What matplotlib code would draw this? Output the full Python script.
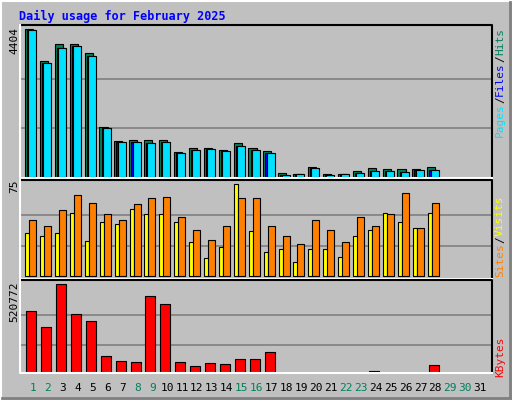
import matplotlib
matplotlib.use("Agg")
import matplotlib.pyplot as plt
from matplotlib.lines import Line2D

days = list(range(1, 32))
hits = [4404, 3450, 3957, 3957, 3688, 1482, 1064, 1094, 1094, 1094, 736, 856, 856, 796, 1005, 856, 775,
        130, 100, 290, 100, 100, 170, 260, 230, 230, 230, 290]
files = [4374, 3390, 3837, 3897, 3599, 1452, 1034, 1034, 1005, 1034, 707, 796, 826, 766, 915, 805, 705,
         70, 80, 260, 70, 80, 130, 170, 170, 140, 200, 200]
pages = [4374, 3390, 3837, 3897, 3599, 1452, 1034, 1034, 1005, 1034, 707, 796, 826, 766, 915, 805, 705,
         70, 80, 260, 70, 80, 130, 170, 170, 140, 200, 200]
visits = [35, 33, 35, 52, 29, 44, 43, 55, 51, 51, 44, 28, 15, 24, 75, 37, 20,
          22, 12, 22, 22, 16, 33, 38, 52, 44, 39, 52]
sites = [46, 41, 54, 66, 60, 51, 46, 59, 64, 65, 48, 38, 30, 41, 64, 64, 41,
         33, 26, 46, 38, 28, 48, 41, 51, 68, 39, 60]
kbytes = [367000, 276000, 520772, 350000, 310000, 110000, 82000, 76000, 452000, 407000, 76000, 54000,
          71000, 65000, 93000, 93000, 133000, 1200, 1200, 1200, 1200, 1200, 1200, 25000, 1200, 1200, 1200, 59000]
weekend = [1, 2, 8, 9, 15, 16, 22, 23, 29, 30]
title = "Daily usage for February 2025"

W, H = 512, 400
BG = "#C0C0C0"
C_HITS, C_FILES, C_PAGES = "#00805C", "#0000FF", "#00E0FF"
C_VIS, C_SITES, C_KB = "#FFFF00", "#FF8000", "#FF0000"

fig = plt.figure(figsize=(W / 100, H / 100), dpi=100)
fig.patch.set_facecolor(BG)

def fx(x): return x / W
def fy(y): return 1 - y / H

# bevel
fig.add_artist(Line2D([fx(1), fx(511)], [fy(1), fy(1)], color="white", lw=1.5))
fig.add_artist(Line2D([fx(1), fx(1)], [fy(1), fy(399)], color="white", lw=1.5))
fig.add_artist(Line2D([fx(2), fx(511)], [fy(397.5), fy(397.5)], color="#808080", lw=2))
fig.add_artist(Line2D([fx(509.5), fx(509.5)], [fy(2), fy(397)], color="#808080", lw=2))

X0, X1 = 21, 491
px_per_day = 14.9
xl0 = 1 + (X0 - 33) / px_per_day
xl1 = 1 + (X1 - 33) / px_per_day

def make_ax(ytop, ybot, zero_y, max_y, vmax):
    ax = fig.add_axes([fx(X0), fy(ybot), fx(X1) - fx(X0), fy(ytop) - fy(ybot)])
    ax.set_facecolor(BG)
    scale = vmax / (zero_y - max_y)
    ax.set_ylim(-(ybot - zero_y) * scale, (zero_y - ytop) * scale)
    ax.set_xlim(xl0, xl1)
    for s in ax.spines.values():
        s.set_visible(False)
    ax.set_xticks([]); ax.set_yticks([])
    for g in (vmax / 3, 2 * vmax / 3):
        ax.axhline(g, color="#808080", lw=1.2, zorder=0)
    return ax

for (t, b) in [(25, 178), (179.5, 278.5), (280, 373)]:
    fig.add_artist(Line2D([fx(20), fx(492), fx(492)], [fy(t), fy(t), fy(b)], color="black", lw=1.5))
    fig.add_artist(Line2D([fx(20), fx(20), fx(492)], [fy(t), fy(b), fy(b)], color="white", lw=1.5))

n = len(hits)
d = days[:n]
ax1 = make_ax(26, 177.5, 177, 29.3, 4404)
ax1.bar([x - 0.54 for x in d], hits, width=0.54, align="edge", color=C_HITS, edgecolor="black", lw=0.8)
ax1.bar([x - 0.40 for x in d], files, width=0.54, align="edge", color=C_FILES, edgecolor="black", lw=0.8)
ax1.bar([x - 0.32 for x in d], pages, width=0.54, align="edge", color=C_PAGES, edgecolor="black", lw=0.8)

ax2 = make_ax(181, 277.5, 276.3, 184.3, 75)
ax2.bar([x - 0.52 for x in d], visits, width=0.3, align="edge", color=C_VIS, edgecolor="black", lw=0.8)
ax2.bar([x - 0.25 for x in d], sites, width=0.47, align="edge", color=C_SITES, edgecolor="black", lw=0.8)

ax3 = make_ax(281, 372, 375.2, 284.3, 520772)
ax3.bar([x - 0.45 for x in d], kbytes, width=0.67, align="edge", color=C_KB, edgecolor="black", lw=0.8)

mono = "DejaVu Sans Mono"
fig.text(fx(19), fy(16), title, color="#0000FF", fontsize=8.5, fontweight="bold", family=mono, va="center")
for lab, y in [("4404", 27), ("75", 180), ("520772", 282)]:
    fig.text(fx(14), fy(y), lab, rotation=90, fontsize=8, family=mono, ha="center", va="top")

CH = 6.8
def right_label(parts, ybot):
    y = ybot
    for txt, col in parts:
        fig.text(fx(500), fy(y), txt, rotation=90, color=col, fontsize=8, family=mono,
                 ha="center", va="bottom")
        y -= len(txt) * CH

right_label([("Pages", C_PAGES), ("/", "black"), ("Files", C_FILES), ("/", "black"), ("Hits", C_HITS)], 137)
right_label([("Sites", C_SITES), ("/", "black"), ("Visits", C_VIS)], 277)
right_label([("KBytes", C_KB)], 377)

for day in days:
    px = 33 + (day - 1) * px_per_day
    fig.text(fx(px), fy(388), str(day), ha="center", va="center", fontsize=8, family=mono,
             color="#00805C" if day in weekend else "black")

fig.savefig("out.png", dpi=100, facecolor=BG)
